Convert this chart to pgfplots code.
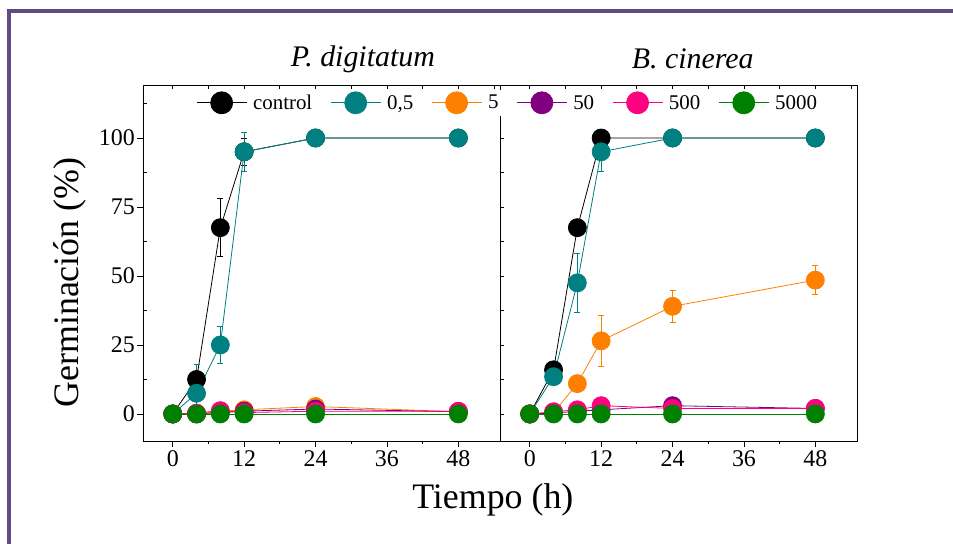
\documentclass[border=0pt]{standalone}
\usepackage{fontspec}
\setmainfont{Liberation Serif}
\usepackage{pgfplots}
\pgfplotsset{compat=1.18}
\definecolor{cteal}{RGB}{0,128,128}
\definecolor{corange}{RGB}{255,128,0}
\definecolor{cpurple}{RGB}{128,0,128}
\definecolor{cpink}{RGB}{255,0,128}
\definecolor{cgreen}{RGB}{0,128,0}
\definecolor{cframe}{RGB}{94,75,128}
\pgfplotsset{
  panel/.style={scale only axis, width=357bp, height=356bp,
    xmin=-5, xmax=55, ymin=-9.8, ymax=119.2, anchor=north west,
    /pgf/number format/assume math mode=true,
    tick label style={font=\fontsize{24}{24}\selectfont},
    axis line style={line width=0.8bp},
    tick style={line width=0.8bp, black},
    major tick length=6bp, minor tick length=3bp},
  over/.style={scale only axis, width=357bp, height=356bp,
    xmin=-5, xmax=55, ymin=-9.8, ymax=119.2, anchor=north west,
    axis line style={line width=0.8bp},
    tick style={line width=0.8bp, black},
    tick align=inside, major tick length=3.5bp,
    xtick={0,6,...,54}, xtick pos=right, ytick pos=left,
    xticklabels={}, yticklabels={}},
  sty/.style={color=#1, line width=0.8bp, mark=*, mark size=9bp,
    mark options={fill=#1, draw=#1, solid},
    error bars/.cd, y dir=both, y explicit,
    error bar style={line width=0.8bp, #1},
    error mark options={rotate=90, mark size=3bp, line width=0.8bp, #1}},
}
\begin{document}
\begin{tikzpicture}
\fill[white] (0,0) rectangle (953bp,-544bp);
\path[use as bounding box] (0,0) rectangle (953bp,-544bp);
\fill[cframe] (7bp,-9bp) rectangle (11bp,-544bp);
\fill[cframe] (7bp,-9bp) rectangle (953bp,-13bp);

% left panel
\begin{axis}[panel, at={(143bp,-85bp)},
  tick align=outside, xtick pos=left, ytick pos=left,
  xtick={0,12,24,36,48}, minor x tick num=1,
  ytick={0,25,50,75,100},
  yticklabel style={inner sep=2bp},
  ylabel={Germinación (\%)},
  ylabel style={font=\fontsize{36}{36}\selectfont, at={(axis description cs:-0.205,0.445)}, anchor=center},
  title={\itshape P. digitatum},
  title style={font=\fontsize{30}{30}\selectfont, at={(axis description cs:0.616,1.056)}, anchor=center}]
\addplot[sty=black] coordinates {(0,0) +- (0,0) (4,12.5) +- (0,5.5) (8,67.5) +- (0,10.5) (12,95) +- (0,5) (24,100) +- (0,0) (48,100) +- (0,0)};
\addplot[sty=cteal] coordinates {(0,0) +- (0,0) (4,7.5) +- (0,10.5) (8,25) +- (0,6.8) (12,95) +- (0,7) (24,100) +- (0,0) (48,100) +- (0,0)};
\addplot[sty=corange] coordinates {(0,0) +- (0,0) (4,0) +- (0,0) (8,1) +- (0,0) (12,1.5) +- (0,0) (24,2.7) +- (0,0) (48,0.8) +- (0,0)};
\addplot[sty=cpurple] coordinates {(0,0) +- (0,0) (4,0) +- (0,0) (8,0.5) +- (0,0) (12,1) +- (0,0) (24,1.8) +- (0,0) (48,0.8) +- (0,0)};
\addplot[sty=cpink] coordinates {(0,0) +- (0,0) (4,0.3) +- (0,0) (8,1.2) +- (0,0) (12,0.5) +- (0,0) (24,1) +- (0,0) (48,1) +- (0,0)};
\addplot[sty=cgreen] coordinates {(0,0) +- (0,0) (4,0) +- (0,0) (8,0) +- (0,0) (12,0) +- (0,0) (24,0) +- (0,0) (48,0) +- (0,0)};
\end{axis}
\begin{axis}[over, at={(143bp,-85bp)}, ytick={12.5,37.5,62.5,87.5,112.5}]
\end{axis}

% right panel
\begin{axis}[over, at={(500bp,-85bp)}, ytick={0,12.5,...,112.5}]
\end{axis}
\begin{axis}[panel, at={(500bp,-85bp)},
  tick align=outside, xtick pos=left, ytick=\empty,
  xtick={0,12,24,36,48}, minor x tick num=1,
  xlabel={Tiempo (h)},
  xlabel style={font=\fontsize{36}{36}\selectfont, at={(axis description cs:-0.02,-0.166)}, anchor=center},
  title={\itshape B. cinerea},
  title style={font=\fontsize{30}{30}\selectfont, at={(axis description cs:0.54,1.056)}, anchor=center},
  legend columns=6,
  legend style={at={(axis description cs:-0.857,0.950)}, anchor=west, fill=white, draw=none,
    font=\fontsize{21}{21}\selectfont, inner sep=2bp,
    /tikz/every odd column/.append style={column sep=4bp},
    /tikz/every even column/.append style={column sep=16bp}},
  legend image code/.code={\draw[#1, mark size=11bp, mark repeat=2, mark phase=2] plot coordinates {(0bp,0bp) (25bp,0bp) (50bp,0bp)};}]
\addplot[sty=black] coordinates {(0,0) +- (0,0) (4,16) +- (0,2.5) (8,67.5) +- (0,2) (12,100) +- (0,0) (24,100) +- (0,0) (48,100) +- (0,0)};
\addplot[sty=cteal] coordinates {(0,0) +- (0,0) (4,13.5) +- (0,1) (8,47.5) +- (0,10.7) (12,95) +- (0,7) (24,100) +- (0,0) (48,100) +- (0,0)};
\addplot[sty=corange] coordinates {(0,0) +- (0,0) (4,0.5) +- (0,0) (8,11) +- (0,0) (12,26.5) +- (0,9.2) (24,39) +- (0,5.8) (48,48.5) +- (0,5.3)};
\addplot[sty=cpurple] coordinates {(0,0) +- (0,0) (4,0.3) +- (0,0) (8,1) +- (0,0) (12,1.5) +- (0,0) (24,3) +- (0,0) (48,2) +- (0,0)};
\addplot[sty=cpink] coordinates {(0,0) +- (0,0) (4,0.8) +- (0,0) (8,1.5) +- (0,0) (12,3) +- (0,0) (24,2) +- (0,0) (48,2) +- (0,0)};
\addplot[sty=cgreen] coordinates {(0,0) +- (0,0) (4,0) +- (0,0) (8,0) +- (0,0) (12,0) +- (0,0) (24,0) +- (0,0) (48,0) +- (0,0)};
\legend{control,{0,5},5,50,500,5000}
\end{axis}
\end{tikzpicture}
\end{document}
